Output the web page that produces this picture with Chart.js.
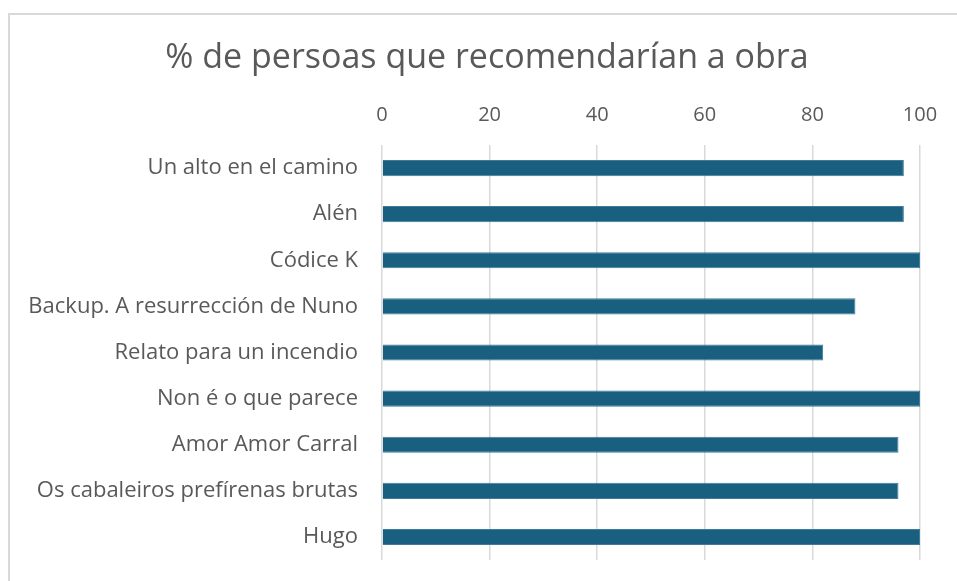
<!DOCTYPE html>
<html>
<head>
<meta charset="utf-8">
<script src="https://cdn.jsdelivr.net/npm/chart.js@4"></script>
<style>
  html, body { margin: 0; background: #fff; overflow: hidden; width: 957px; height: 581px; }
  #frame { position: absolute; left: 8px; top: 13px; width: 960px; height: 580px; border-left: 2px solid #d9d9d9; border-top: 2px solid #d9d9d9; }
  #chart { position: absolute; left: 0; top: 0; }
</style>
</head>
<body>
<div id="frame"></div>
<canvas id="chart" width="957" height="581"></canvas>
<script>
const titleText = "% de persoas que recomendarían a obra";
const works = [
  "Un alto en el camino",
  "Alén",
  "Códice K",
  "Backup. A resurrección de Nuno",
  "Relato para un incendio",
  "Non é o que parece",
  "Amor Amor Carral",
  "Os cabaleiros prefírenas brutas",
  "Hugo"
];
const percentages = [97, 97, 100, 88, 82, 100, 96, 96, 100];
const xTicks = [0, 20, 40, 60, 80, 100];

const textColor = "#595959";
const fontFamily = "'Open Sans', 'Noto Sans', sans-serif";

// title is drawn by hand so it can sit right of the canvas centre, as in the original
const titlePlugin = {
  id: "offsetTitle",
  afterDraw(chart) {
    const c = chart.ctx;
    c.save();
    c.font = `34px ${fontFamily}`;
    c.fillStyle = textColor;
    c.textAlign = "center";
    c.textBaseline = "middle";
    c.fillText(titleText, 487, 58);
    c.restore();
  }
};

const ctx = document.getElementById("chart").getContext("2d");
const chart = new Chart(ctx, {
  type: "bar",
  data: {
    labels: works,
    datasets: [{
      label: titleText,
      data: percentages,
      backgroundColor: "#185f80",
      borderColor: "#3f7b98",
      borderWidth: 1,
      barPercentage: 0.35,
      categoryPercentage: 1
    }]
  },
  plugins: [titlePlugin],
  options: {
    indexAxis: "y",
    responsive: false,
    animation: false,
    layout: { padding: { left: 0, right: 37, top: 0, bottom: 21 } },
    plugins: {
      legend: { display: false },
      tooltip: { enabled: false },
      title: { display: false }
    },
    scales: {
      x: {
        position: "top",
        min: 0,
        max: 100,
        afterBuildTicks: scale => { scale.ticks = xTicks.map(v => ({ value: v })); },
        afterFit: scale => { scale.height = 145; scale.paddingTop = 0; scale.paddingBottom = 0; },
        ticks: { color: textColor, font: { family: fontFamily, size: 20 }, padding: 18 },
        grid: { color: "#d9d9d9", lineWidth: 1.5, drawTicks: false },
        border: { display: false }
      },
      y: {
        afterFit: scale => { scale.width = 382; scale.paddingTop = 0; scale.paddingBottom = 0; },
        ticks: { color: textColor, font: { family: fontFamily, size: 22 }, padding: 16 },
        grid: { display: false },
        border: { display: false }
      }
    }
  }
});
</script>
</body>
</html>
